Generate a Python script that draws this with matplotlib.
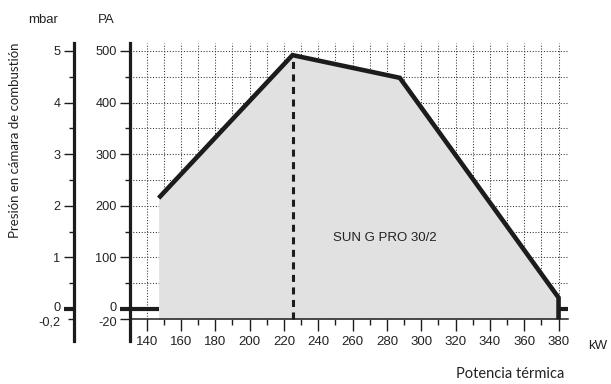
import numpy as np
import matplotlib
matplotlib.use("Agg")
import matplotlib.pyplot as plt
import matplotlib.transforms as mtransforms
from matplotlib.ticker import FixedLocator, MultipleLocator

# working field of the burner (kW -> Pa)
power_kw = [147, 225, 287.5, 380, 380]
pressure_pa = [215, 492, 448, 22, -20]
peak_kw = 225
peak_pa = 492

kw_ticks = list(range(140, 381, 20))
pa_ticks = [-20, 0, 100, 200, 300, 400, 500]
pa_labels = ['-20', '0', '100', '200', '300', '400', '500']
mbar_ticks = [-0.2, 0, 1, 2, 3, 4, 5]
mbar_labels = ['-0,2', '0', '1', '2', '3', '4', '5']
model_name = 'SUN G PRO 30/2'

W, H = 611, 384
xlim = (130.3, 385.5)
ylim = (-62, 515.5)
x_floor = -20  # where the kW axis sits

plt.rcParams['font.family'] = ['Liberation Sans', 'DejaVu Sans']
narrow = ['Lato', 'DejaVu Sans']
ink = '#1c1c1c'
txt = '#222222'

fig = plt.figure(figsize=(W / 100, H / 100), dpi=100)
bot, top = 1 - 341 / H, 1 - 43 / H
ax = fig.add_axes([130 / W, bot, (568 - 130) / W, top - bot])
ax.set_xlim(*xlim)
ax.set_ylim(*ylim)

for s in ['top', 'right']:
    ax.spines[s].set_visible(False)
ax.spines['left'].set_linewidth(2.3)
ax.spines['left'].set_color(ink)
ax.spines['bottom'].set_position(('data', x_floor))
ax.spines['bottom'].set_linewidth(1.1)
ax.spines['bottom'].set_color(ink)

# dotted grid
dots = dict(color='#333333', lw=0.75, linestyle=(0, (1, 1.7)), zorder=1)
ax.vlines(np.arange(140, 381, 10), x_floor, ylim[1], **dots)
ax.hlines(np.arange(50, 501, 50), xlim[0], xlim[1], **dots)

# working field
ax.fill_between(power_kw[:4], pressure_pa[:4], x_floor, color='#e1e1e1', lw=0, zorder=2)
ax.plot(power_kw, pressure_pa, color=ink, lw=3.3, solid_joinstyle='miter',
        solid_capstyle='butt', zorder=4)
ax.plot([peak_kw, peak_kw], [x_floor, peak_pa], color=ink, lw=2.2,
        linestyle=(0, (2.3, 1.8)), zorder=3)
ax.plot([xlim[0], power_kw[0]], [0, 0], color=ink, lw=3.0, solid_capstyle='butt', zorder=4)
ax.plot([power_kw[-1], xlim[1]], [0, 0], color=ink, lw=3.0, solid_capstyle='butt', zorder=4)

ax.text(279, 138, model_name, fontsize=9.5, ha='center', va='center', color=txt, zorder=5)

# axes ticks
ax.xaxis.set_major_locator(FixedLocator(kw_ticks))
ax.xaxis.set_minor_locator(MultipleLocator(10))
ax.tick_params(axis='x', which='major', length=8.6, width=1.0, pad=3.5,
               labelsize=9.5, colors=ink, labelcolor=txt)
ax.tick_params(axis='x', which='minor', length=4.5, width=1.0, colors=ink)


def style_left(a, ticks, labels, minor):
    a.yaxis.set_major_locator(FixedLocator(ticks))
    a.set_yticklabels(labels)
    a.yaxis.set_minor_locator(FixedLocator(minor))
    a.tick_params(axis='y', which='major', length=7.2, width=1.0, pad=2.5,
                  labelsize=9.2, colors=ink, labelcolor=txt)
    a.tick_params(axis='y', which='minor', length=3.6, width=1.0, colors=ink)
    up = mtransforms.ScaledTranslation(0, 2.5 / 100, fig.dpi_scale_trans)
    down = mtransforms.ScaledTranslation(0, -2 / 100, fig.dpi_scale_trans)
    for t, v in zip(a.yaxis.get_major_ticks(), ticks):
        if v == 0:
            t.tick1line.set_markeredgewidth(3.0)
            t.label1.set_transform(t.label1.get_transform() + up)
        elif v < 0:
            t.label1.set_transform(t.label1.get_transform() + down)


style_left(ax, pa_ticks, pa_labels, np.arange(50, 501, 100))

# mbar axis
ax2 = fig.add_axes([74 / W, bot, 0.0001, top - bot])
ax2.set_ylim(ylim[0] / 100, ylim[1] / 100)
ax2.set_xticks([])
ax2.patch.set_visible(False)
for s in ['top', 'right', 'bottom']:
    ax2.spines[s].set_visible(False)
ax2.spines['left'].set_linewidth(2.3)
ax2.spines['left'].set_color(ink)
style_left(ax2, mbar_ticks, mbar_labels, np.arange(0.5, 5.0, 1.0))
for t, v in zip(ax2.yaxis.get_major_ticks(), mbar_ticks):
    if v < 0:
        t.tick1line.set_markersize(4.3)

# labels
fig.text(43 / W, 1 - 20 / H, 'mbar', fontsize=9.5, ha='center', va='center', color=txt)
fig.text(106 / W, 1 - 20 / H, 'PA', fontsize=9.5, ha='center', va='center', color=txt)
fig.text(598 / W, 1 - 346 / H, 'kW', fontsize=9.5, ha='center', va='center', color=txt)
fig.text(510 / W, 1 - 374 / H, 'Potencia térmica', fontsize=10.5, family=narrow,
         ha='center', va='center', color=txt)
fig.text(15 / W, 1 - 140 / H, 'Presión en cámara de combustión', fontsize=9.5,
         family=narrow, rotation=90, ha='center', va='center', color=txt)

fig.savefig('out.png', dpi=100)
